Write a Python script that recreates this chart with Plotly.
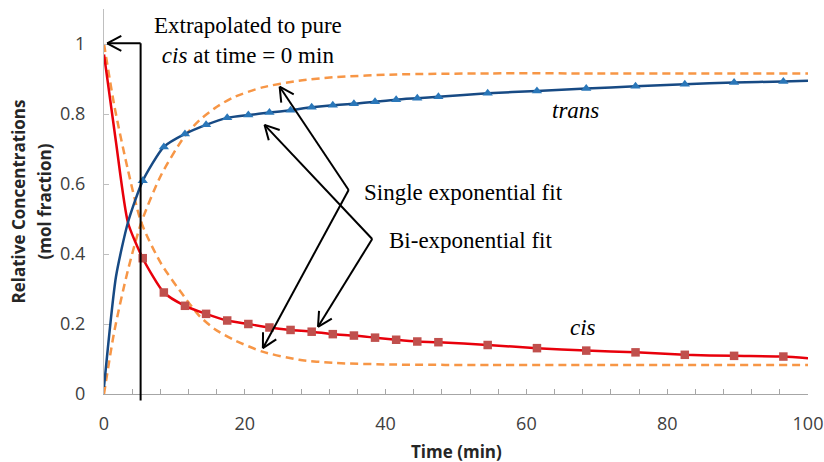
import math
import plotly.graph_objects as go

# ---------------- data ----------------
time_data = [5.5, 8.5, 11.5, 14.5, 17.5, 20.5, 23.5, 26.5, 29.5, 32.5, 35.5, 38.5,
             41.5, 44.5, 47.5, 54.5, 61.5, 68.5, 75.5, 82.5, 89.5, 96.5]
trans_data = [0.609, 0.706, 0.743, 0.769, 0.789, 0.797, 0.804, 0.811, 0.819, 0.825, 0.829,
              0.835, 0.841, 0.845, 0.849, 0.859, 0.866, 0.873, 0.879, 0.885, 0.890, 0.893]
cis_data = [0.388, 0.290, 0.252, 0.229, 0.210, 0.200, 0.190, 0.183, 0.178, 0.171, 0.167,
            0.161, 0.155, 0.150, 0.148, 0.140, 0.131, 0.124, 0.119, 0.112, 0.109, 0.107]

# bi-exponential fit curves
bi_t = [0, 1.7, 3.4, 5.5, 8.5, 11.5, 14.5, 17.5, 20.5, 23.5, 26.5, 29.5, 32.5, 35.5, 38.5,
        41.5, 44.5, 47.5, 54.5, 61.5, 68.5, 75.5, 82.5, 89.5, 96.5, 100]
bi_trans = [0.02, 0.335, 0.49, 0.609, 0.706, 0.743, 0.769, 0.789, 0.797, 0.804, 0.811, 0.819,
            0.825, 0.829, 0.835, 0.841, 0.845, 0.849, 0.859, 0.866, 0.873, 0.879, 0.885,
            0.890, 0.893, 0.895]
bi_cis = [0.97, 0.72, 0.49, 0.388, 0.290, 0.252, 0.229, 0.210, 0.200, 0.190, 0.183, 0.178,
          0.171, 0.167, 0.161, 0.155, 0.150, 0.148, 0.140, 0.131, 0.124, 0.119, 0.112,
          0.109, 0.107, 0.102]

# single exponential fit curves
se_t = [0, 1.5, 3.4, 5.3, 8.1, 11.4, 13.6, 15.7, 18.3, 22.5, 27.7, 32.5, 41.5, 55, 70, 100]
se_trans = [0.0, 0.183, 0.354, 0.49, 0.625, 0.735, 0.783, 0.816, 0.847, 0.876, 0.895, 0.905,
            0.913, 0.916, 0.916, 0.916]
se_cis = [1.0, 0.82, 0.64, 0.49, 0.373, 0.278, 0.222, 0.186, 0.156, 0.121, 0.098, 0.089,
          0.084, 0.083, 0.083, 0.083]

x_ticks = [0, 20, 40, 60, 80, 100]
y_ticks = [0, 0.2, 0.4, 0.6, 0.8, 1]

# ---------------- layout constants ----------------
W, H = 824, 462
ML, MR, MT, MB = 104, 16, 9, 68
X_RANGE = [0, 100]
Y_RANGE = [0, 1.1]
PW, PH = W - ML - MR, H - MT - MB
PX_X = PW / (X_RANGE[1] - X_RANGE[0])
PX_Y = PH / (Y_RANGE[1] - Y_RANGE[0])

ORANGE = "#F79646"
SERIF = "Liberation Serif"
SANS = "Open Sans"
SERIF_SIZE = 23

fig = go.Figure()

fig.add_trace(go.Scatter(x=se_t, y=se_cis, mode="lines", line=dict(color=ORANGE, width=2.5, dash="8px,5px", shape="spline", smoothing=0.7), showlegend=False))
fig.add_trace(go.Scatter(x=se_t, y=se_trans, mode="lines", line=dict(color=ORANGE, width=2.5, dash="8px,5px", shape="spline", smoothing=0.7), showlegend=False))
fig.add_trace(go.Scatter(x=bi_t, y=bi_cis, mode="lines", line=dict(color="#E8000B", width=2.5, shape="spline", smoothing=0.6), showlegend=False))
fig.add_trace(go.Scatter(x=bi_t, y=bi_trans, mode="lines", line=dict(color="#174A84", width=2.5, shape="spline", smoothing=0.6), showlegend=False))
fig.add_trace(go.Scatter(x=time_data, y=cis_data, mode="markers", marker=dict(symbol="square", size=8.5, color="#C0504D"), showlegend=False))
fig.add_trace(go.Scatter(x=time_data, y=trans_data, mode="markers", marker=dict(symbol="triangle-up", size=9, color="#2A77B9"), showlegend=False))

shapes = []


def seg(x0, y0, x1, y1):
    shapes.append(dict(type="line", xref="x", yref="y", x0=x0, y0=y0, x1=x1, y1=y1,
                       line=dict(color="black", width=2)))


def chevron(tip, tail, length=16, ang=28):
    dx = (tail[0] - tip[0]) * PX_X
    dy = -(tail[1] - tip[1]) * PX_Y
    n = math.hypot(dx, dy)
    ux, uy = dx / n, dy / n
    for a in (ang, -ang):
        r = math.radians(a)
        ex = (ux * math.cos(r) - uy * math.sin(r)) * length
        ey = (ux * math.sin(r) + uy * math.cos(r)) * length
        seg(tip[0], tip[1], tip[0] + ex / PX_X, tip[1] - ey / PX_Y)


def arrow(tail, tip):
    seg(tail[0], tail[1], tip[0], tip[1])
    chevron(tip, tail)


# single exponential fit arrows
single_vertex = (34.75, 0.583)
arrow(single_vertex, (24.95, 0.878))
arrow(single_vertex, (22.57, 0.131))
# bi-exponential fit arrows
bi_vertex = (38.1, 0.443)
arrow(bi_vertex, (22.8, 0.769))
arrow(bi_vertex, (30.4, 0.192))

# extrapolation bracket arrow
ext_tip = (0.45, 1.002)
ext_corner = (5.2, 1.002)
arrow(ext_corner, ext_tip)
shapes.append(dict(type="line", xref="x", yref="paper", x0=ext_corner[0], x1=ext_corner[0],
                   y0=ext_corner[1] / Y_RANGE[1], y1=-0.017, line=dict(color="black", width=2)))

serif_font = dict(family=SERIF, size=SERIF_SIZE, color="black")
title_font = dict(family=SANS, size=17, color="#262626")
annotations = [
    dict(x=20.5, y=1.009, xref="x", yref="y", text="Extrapolated to pure<br><i>cis</i> at time = 0 min",
         showarrow=False, font=serif_font, xanchor="center", yanchor="middle"),
    dict(x=36.6, y=0.577, xref="x", yref="y", text="Single exponential fit", showarrow=False,
         font=serif_font, xanchor="left", yanchor="middle"),
    dict(x=40.2, y=0.44, xref="x", yref="y", text="Bi-exponential fit", showarrow=False,
         font=serif_font, xanchor="left", yanchor="middle"),
    dict(x=67.0, y=0.811, xref="x", yref="y", text="<i>trans</i>", showarrow=False,
         font=serif_font, xanchor="center", yanchor="middle"),
    dict(x=68.1, y=0.19, xref="x", yref="y", text="<i>cis</i>", showarrow=False,
         font=serif_font, xanchor="center", yanchor="middle"),
    # x-axis title
    dict(x=0.5, y=-(451 - (MT + PH)) / PH, xref="paper", yref="paper",
         text="<b>Time (min)</b>", showarrow=False, font=title_font,
         xanchor="center", yanchor="middle"),
    # y-axis title (two lines)
    dict(x=(18 - ML) / PW, y=0.5, xref="paper", yref="paper", textangle=-90,
         text="<b>Relative Concentrations</b>", showarrow=False, font=title_font,
         xanchor="center", yanchor="middle"),
    dict(x=(44 - ML) / PW, y=0.5, xref="paper", yref="paper", textangle=-90,
         text="<b>(mol fraction)</b>", showarrow=False, font=title_font,
         xanchor="center", yanchor="middle"),
]

fig.update_layout(
    width=W, height=H,
    margin=dict(l=ML, r=MR, t=MT, b=MB, pad=0, autoexpand=False),
    paper_bgcolor="white", plot_bgcolor="white",
    shapes=shapes, annotations=annotations,
    showlegend=False,
)
fig.update_xaxes(
    range=X_RANGE, tickvals=x_ticks, ticktext=[str(v) for v in x_ticks],
    showgrid=False, zeroline=False, showline=True, linecolor="#A6A6A6", linewidth=1,
    ticks="inside", ticklen=5, tickcolor="#A6A6A6", automargin=False,
    minor=dict(dtick=4, tick0=0, ticks="inside", ticklen=5, tickcolor="#A6A6A6", showgrid=False),
    tickfont=dict(family=SANS, size=18, color="#404040"), ticklabelstandoff=13,
)
fig.update_yaxes(
    range=Y_RANGE, tickvals=y_ticks, ticktext=["0", "0.2", "0.4", "0.6", "0.8", "1"],
    showgrid=False, zeroline=False, showline=True, linecolor="#BFBFBF", linewidth=1,
    ticks="inside", ticklen=5, tickcolor="#BFBFBF", automargin=False,
    tickfont=dict(family=SANS, size=18, color="#404040"), ticklabelstandoff=14,
)

fig.write_html("out.html")
